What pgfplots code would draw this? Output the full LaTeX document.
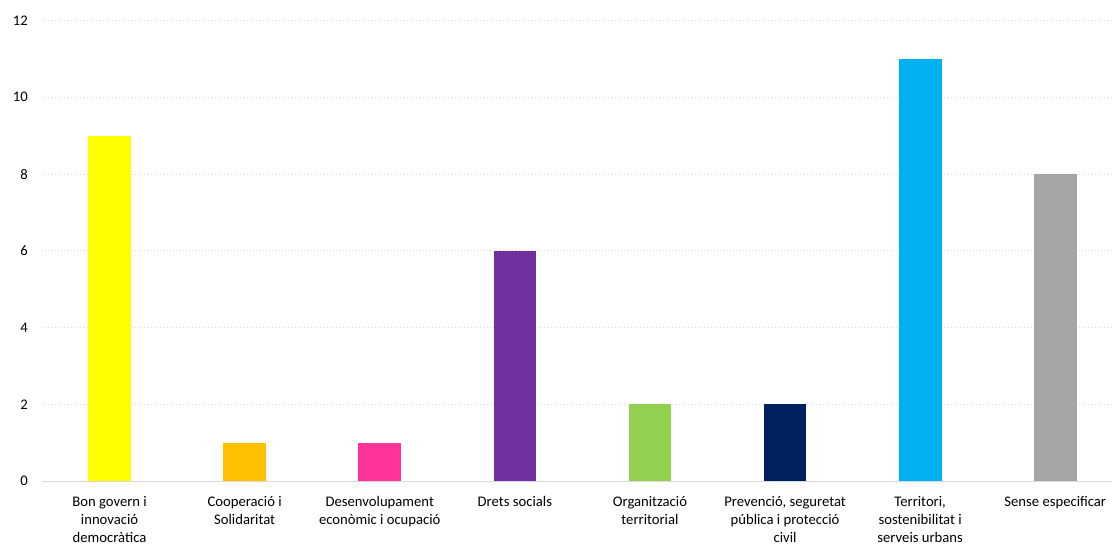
\documentclass[border=0pt]{standalone}
\usepackage{pgfplots}
\pgfplotsset{compat=1.18}
\usepackage{fontspec}
\setmainfont{Carlito}
\usetikzlibrary{calc}
\definecolor{gridc}{HTML}{D9D9D9}
\definecolor{c1}{HTML}{FFFF00}
\definecolor{c2}{HTML}{FFC000}
\definecolor{c3}{HTML}{FF3399}
\definecolor{c4}{HTML}{7030A0}
\definecolor{c5}{HTML}{92D050}
\definecolor{c6}{HTML}{002060}
\definecolor{c7}{HTML}{00B0F0}
\definecolor{c8}{HTML}{A5A5A5}
\begin{document}
\begin{tikzpicture}
\begin{axis}[
  name=ax,
  scale only axis,
  width=802.5pt, height=345.4pt,
  xmin=-0.5, xmax=7.42,
  ymin=0, ymax=12,
  ytick={0,2,...,12},
  xtick={0,1,2,3,4,5,6,7},
  xticklabels={{Bon govern i\\innovació\\democràtica},{Cooperació i\\Solidaritat},{Desenvolupament\\econòmic i ocupació},{Drets socials},{Organització\\territorial},{Prevenció, seguretat\\pública i protecció\\civil},{Territori,\\sostenibilitat i\\serveis urbans},{Sense especificar}},
  /pgf/number format/assume math mode=true,
  font=\fontsize{11pt}{13.5pt}\selectfont,
  xticklabel style={align=center, anchor=north, inner sep=0pt, yshift=-11.5pt, font=\fontsize{11pt}{13.5pt}\selectfont},
  yticklabel style={anchor=east, inner sep=0pt, xshift=-10.5pt, font=\fontsize{11pt}{13.5pt}\selectfont},
  major tick length=0pt,
  axis line style={draw=none},
  ymajorgrids,
  grid style={gridc, dotted, line width=0.8pt},
  ybar, bar width=32pt, bar shift=0pt,
  axis on top=false,
]
\addplot[fill=c1, draw=none] coordinates {(0,9)};
\addplot[fill=c2, draw=none] coordinates {(1,1)};
\addplot[fill=c3, draw=none] coordinates {(2,1)};
\addplot[fill=c4, draw=none] coordinates {(3,6)};
\addplot[fill=c5, draw=none] coordinates {(4,2)};
\addplot[fill=c6, draw=none] coordinates {(5,2)};
\addplot[fill=c7, draw=none] coordinates {(6,11)};
\addplot[fill=c8, draw=none] coordinates {(7,8)};
\draw[gridc, line width=0.8pt] (rel axis cs:0,0) -- (rel axis cs:1,0);
\end{axis}
\pgfresetboundingbox
\path ($(ax.south west)+(-31.5pt,-49.5pt)$) rectangle ($(ax.north east)+(0.75pt,15.4pt)$);
\end{tikzpicture}
\end{document}
